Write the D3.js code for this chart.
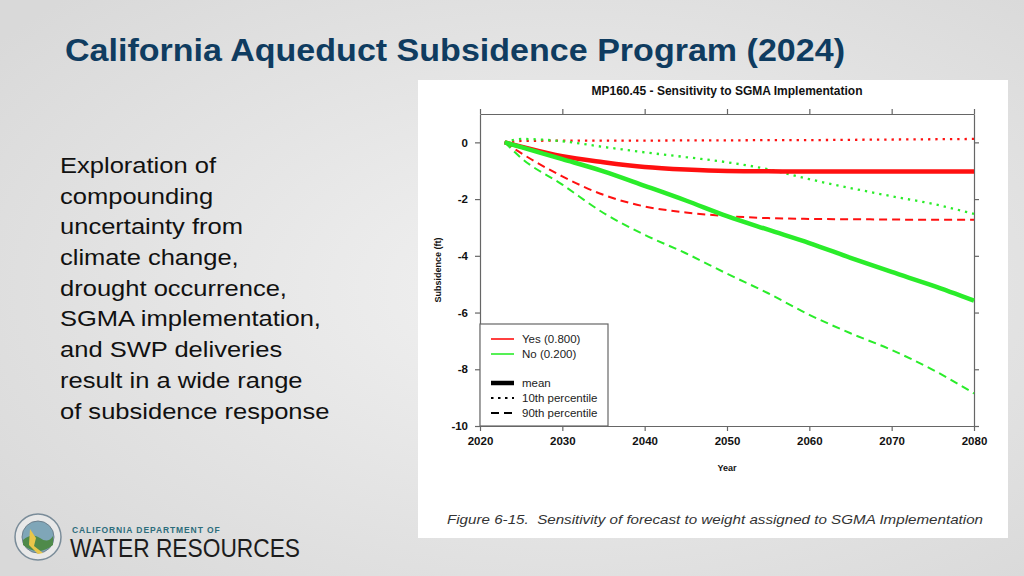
<!DOCTYPE html>
<html>
<head>
<meta charset="utf-8">
<script src="https://cdn.jsdelivr.net/npm/d3@7"></script>
<style>
  html, body { margin: 0; padding: 0; background: #e4e4e4; }
  svg { display: block; font-family: "Liberation Sans", Arial, sans-serif; }
</style>
</head>
<body>
<div id="slide"></div>
<script>
// values (ft of subsidence)
const years = [2023, 2025, 2030, 2035, 2040, 2045, 2050, 2055, 2060, 2065, 2070, 2075, 2080];
const yesMean = [0, -0.15, -0.49, -0.70, -0.87, -0.96, -1.01, -1.02, -1.03, -1.03, -1.03, -1.03, -1.03];
const yesP10 = [0, 0.05, 0.06, 0.06, 0.06, 0.07, 0.07, 0.08, 0.08, 0.09, 0.10, 0.11, 0.12];
const yesP90 = [0, -0.38, -1.20, -1.85, -2.26, -2.47, -2.60, -2.67, -2.70, -2.71, -2.72, -2.73, -2.73];
const noMean = [0, -0.17, -0.59, -1.02, -1.53, -2.05, -2.60, -3.08, -3.55, -4.07, -4.57, -5.05, -5.58];
const noP10 = [0, 0.12, 0.04, -0.16, -0.35, -0.52, -0.70, -0.95, -1.30, -1.61, -1.90, -2.17, -2.52];
const noP90 = [0, -0.55, -1.49, -2.49, -3.26, -3.91, -4.63, -5.32, -6.08, -6.73, -7.32, -8.02, -8.85];

const xTicks = [2020, 2030, 2040, 2050, 2060, 2070, 2080];
const yTicks = [0, -2, -4, -6, -8, -10];

const legendGroups = ["Yes (0.800)", "No (0.200)"];
const legendStats = ["mean", "10th percentile", "90th percentile"];

const bodyLines = [
    "Exploration of",
    "compounding",
    "uncertainty from",
    "climate change,",
    "drought occurrence,",
    "SGMA implementation,",
    "and SWP deliveries",
    "result in a wide range",
    "of subsidence response"
];

const W = 1024, H = 576;
const RED = "#ff1010", GREEN = "#2aec2a";

const svg = d3.select("#slide").append("svg")
    .attr("width", W).attr("height", H);

// slide background
const defs = svg.append("defs");
const grad = defs.append("radialGradient").attr("id", "bg")
    .attr("cx", "55%").attr("cy", "50%").attr("r", "70%");
grad.append("stop").attr("offset", "0%").attr("stop-color", "#f2f2f2");
grad.append("stop").attr("offset", "100%").attr("stop-color", "#d9d9d9");
svg.append("rect").attr("width", W).attr("height", H).attr("fill", "url(#bg)");

// slide title
svg.append("text")
    .attr("x", 65).attr("y", 61)
    .attr("font-size", 31).attr("font-weight", "bold")
    .attr("fill", "#0f3c60")
    .attr("textLength", 780).attr("lengthAdjust", "spacingAndGlyphs")
    .text("California Aqueduct Subsidence Program (2024)");

// body text
const body = svg.append("g").attr("transform", "translate(60,0) scale(1.12,1)");
body.selectAll("text").data(bodyLines).join("text")
    .attr("x", 0)
    .attr("y", (d, i) => 173 + i * 30.7)
    .attr("font-size", 22.8)
    .attr("fill", "#111")
    .text(d => d);

// white figure panel
svg.append("rect")
    .attr("x", 418).attr("y", 80).attr("width", 590).attr("height", 458)
    .attr("fill", "#fff");

// scales
const x = d3.scaleLinear().domain([2020, 2080]).range([480, 974]);
const y = d3.scaleLinear().domain([-10, 1]).range([426, 114]);

// axes (box with ticks on all four sides)
function styleAxis(g) {
    g.selectAll("path.domain").attr("stroke", "#666").attr("stroke-width", 1.2);
    g.selectAll(".tick line").attr("stroke", "#666").attr("stroke-width", 1.2);
    g.selectAll(".tick text")
        .attr("font-family", "Liberation Sans, Arial, sans-serif")
        .attr("font-size", 11.5).attr("font-weight", "bold").attr("fill", "#111");
}

svg.append("g")
    .attr("transform", `translate(0,${y(-10)})`)
    .call(d3.axisBottom(x).tickValues(xTicks).tickSize(5).tickSizeOuter(0).tickPadding(6).tickFormat(d => String(d)))
    .call(styleAxis);
svg.append("g")
    .attr("transform", `translate(0,${y(1)})`)
    .call(d3.axisTop(x).tickValues(xTicks).tickSize(5).tickSizeOuter(0).tickFormat(""))
    .call(styleAxis);
svg.append("g")
    .attr("transform", `translate(${x(2020)},0)`)
    .call(d3.axisLeft(y).tickValues(yTicks).tickSize(5).tickSizeOuter(0).tickPadding(7).tickFormat(d => String(d)))
    .call(styleAxis);
svg.append("g")
    .attr("transform", `translate(${x(2080)},0)`)
    .call(d3.axisRight(y).tickValues(yTicks).tickSize(5).tickSizeOuter(0).tickFormat(""))
    .call(styleAxis);

// chart title and axis labels
svg.append("text")
    .attr("x", 727).attr("y", 95).attr("text-anchor", "middle")
    .attr("font-size", 12).attr("font-weight", "bold").attr("fill", "#111")
    .text("MP160.45 - Sensitivity to SGMA Implementation");
svg.append("text")
    .attr("x", 727).attr("y", 471).attr("text-anchor", "middle")
    .attr("font-size", 9).attr("font-weight", "bold").attr("fill", "#111")
    .text("Year");
svg.append("text")
    .attr("transform", `translate(441,${(y(1) + y(-10)) / 2}) rotate(-90)`)
    .attr("text-anchor", "middle")
    .attr("font-size", 9).attr("font-weight", "bold").attr("fill", "#111")
    .text("Subsidence (ft)");

// series lines
const series = [
    { vals: yesP10, color: RED, width: 2.3, dash: "2.3,5" },
    { vals: noP10, color: GREEN, width: 2.3, dash: "2.3,5" },
    { vals: yesP90, color: RED, width: 2, dash: "8,5" },
    { vals: noP90, color: GREEN, width: 2, dash: "8,5" },
    { vals: yesMean, color: RED, width: 4.5, dash: null },
    { vals: noMean, color: GREEN, width: 4.5, dash: null }
];

const line = d3.line()
    .x(d => x(d[0]))
    .y(d => y(d[1]))
    .curve(d3.curveMonotoneX);

svg.append("g").selectAll("path").data(series).join("path")
    .attr("d", s => line(years.map((yr, i) => [yr, s.vals[i]])))
    .attr("fill", "none")
    .attr("stroke", s => s.color)
    .attr("stroke-width", s => s.width)
    .attr("stroke-dasharray", s => s.dash)
    .attr("stroke-linecap", "butt");

// legend
const lg = svg.append("g");
lg.append("rect")
    .attr("x", x(2020)).attr("y", 324)
    .attr("width", 128).attr("height", y(-10) - 324)
    .attr("fill", "#fff").attr("stroke", "#666").attr("stroke-width", 1.2);

const legendRows = [
    { label: legendGroups[0], y: 339, color: RED, width: 1.6, dash: null },
    { label: legendGroups[1], y: 354, color: GREEN, width: 1.6, dash: null },
    { label: legendStats[0], y: 383, color: "#000", width: 4.5, dash: null },
    { label: legendStats[1], y: 398, color: "#000", width: 2, dash: "2.5,4.5" },
    { label: legendStats[2], y: 413, color: "#000", width: 2, dash: "8,5" }
];
lg.selectAll("line").data(legendRows).join("line")
    .attr("x1", 491).attr("x2", 514)
    .attr("y1", d => d.y).attr("y2", d => d.y)
    .attr("stroke", d => d.color)
    .attr("stroke-width", d => d.width)
    .attr("stroke-dasharray", d => d.dash);
lg.selectAll("text").data(legendRows).join("text")
    .attr("x", 522).attr("y", d => d.y + 4)
    .attr("font-size", 11.5).attr("fill", "#222")
    .text(d => d.label);

// figure caption
svg.append("text")
    .attr("x", 447).attr("y", 524)
    .attr("font-size", 13.5).attr("font-style", "italic").attr("fill", "#333")
    .style("white-space", "pre")
    .attr("textLength", 536).attr("lengthAdjust", "spacingAndGlyphs")
    .text("Figure 6-15.  Sensitivity of forecast to weight assigned to SGMA Implementation");

// DWR logo
const logo = svg.append("g");
logo.append("circle").attr("cx", 38).attr("cy", 537).attr("r", 23)
    .attr("fill", "#e8e8e8").attr("stroke", "#7a8c99").attr("stroke-width", 1.5);
logo.append("circle").attr("cx", 38).attr("cy", 537).attr("r", 16)
    .attr("fill", "#7fa6b8").attr("stroke", "#6c7f8c").attr("stroke-width", 1);
logo.append("path").attr("d", "M23,540 Q32,532 40,538 T53,536 L53,545 Q38,557 23,545 Z")
    .attr("fill", "#4f8a4a");
logo.append("path").attr("d", "M30,529 L36,538 L34,546 L43,553 L38,554 L29,545 Z")
    .attr("fill", "#e8c64a");
logo.append("text")
    .attr("x", 72).attr("y", 533)
    .attr("font-size", 8.5).attr("font-weight", "bold").attr("fill", "#2d6d7c")
    .attr("letter-spacing", 0.9)
    .text("CALIFORNIA DEPARTMENT OF");
logo.append("text")
    .attr("x", 70).attr("y", 557)
    .attr("font-size", 25).attr("fill", "#1c1c1c")
    .attr("textLength", 230).attr("lengthAdjust", "spacingAndGlyphs")
    .text("WATER RESOURCES");
</script>
</body>
</html>
